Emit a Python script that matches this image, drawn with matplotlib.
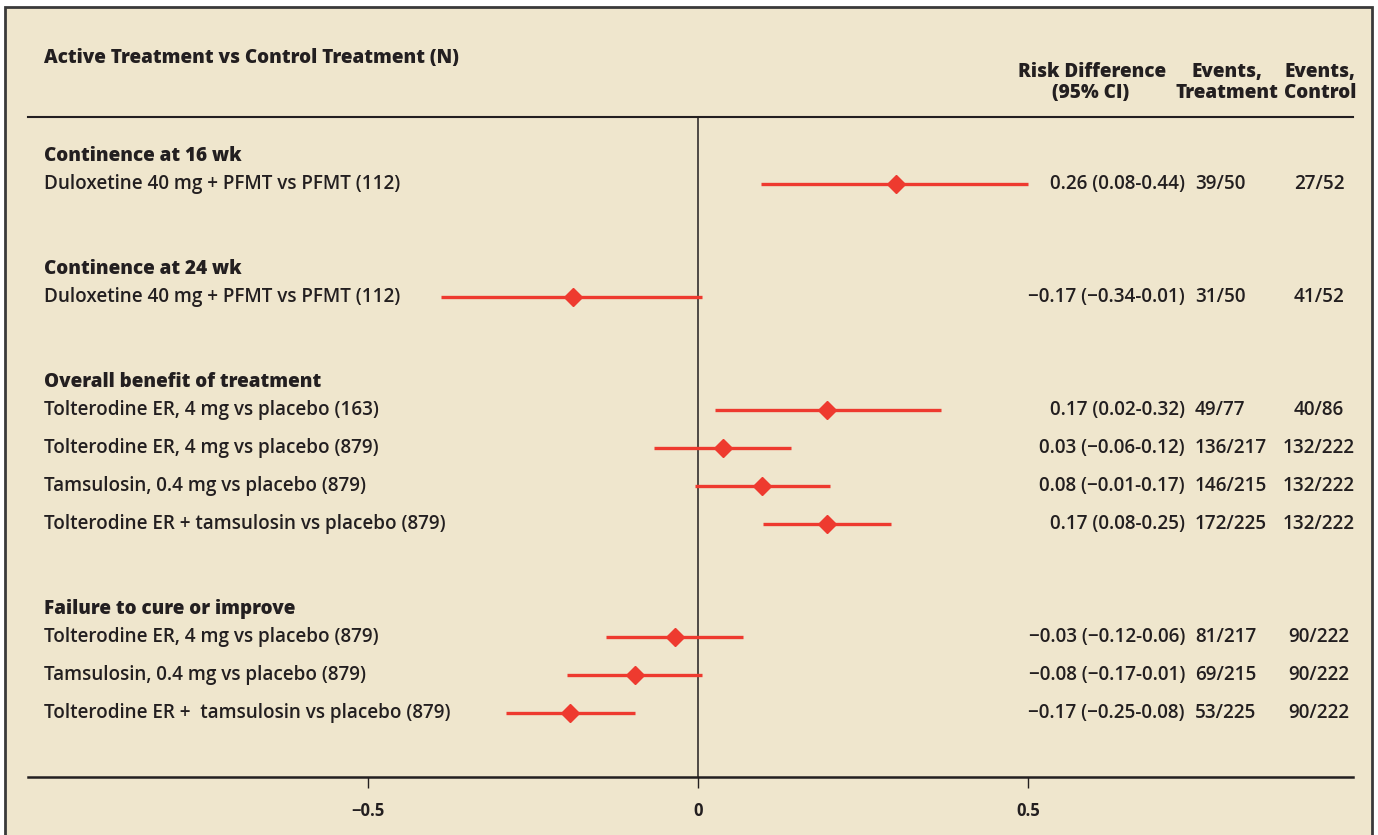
import matplotlib
matplotlib.use("Agg")
import matplotlib.pyplot as plt
from matplotlib.patches import Rectangle
from matplotlib.transforms import blended_transform_factory

plt.rcParams['font.family'] = ['Open Sans', 'DejaVu Sans']

groups = ["Continence at 16 wk", "Continence at 24 wk",
          "Overall benefit of treatment", "Failure to cure or improve"]
group_sizes = [1, 1, 4, 3]

labels = [
    "Duloxetine 40 mg + PFMT vs PFMT (112)",
    "Duloxetine 40 mg + PFMT vs PFMT (112)",
    "Tolterodine ER, 4 mg vs placebo (163)",
    "Tolterodine ER, 4 mg vs placebo (879)",
    "Tamsulosin, 0.4 mg vs placebo (879)",
    "Tolterodine ER + tamsulosin vs placebo (879)",
    "Tolterodine ER, 4 mg vs placebo (879)",
    "Tamsulosin, 0.4 mg vs placebo (879)",
    "Tolterodine ER +  tamsulosin vs placebo (879)",
]
# point estimates and CI as drawn
est = [0.30, -0.19, 0.195, 0.038, 0.097, 0.195, -0.035, -0.095, -0.194]
lo = [0.095, -0.39, 0.026, -0.067, -0.005, 0.098, -0.139, -0.198, -0.291]
hi = [0.50, 0.006, 0.368, 0.141, 0.20, 0.292, 0.068, 0.006, -0.095]

rd_text = [
    "0.26 (0.08-0.44)", "\u22120.17 (\u22120.34-0.01)", "0.17 (0.02-0.32)",
    "0.03 (\u22120.06-0.12)", "0.08 (\u22120.01-0.17)", "0.17 (0.08-0.25)",
    "\u22120.03 (\u22120.12-0.06)", "\u22120.08 (\u22120.17-0.01)",
    "\u22120.17 (\u22120.25-0.08)",
]
ev_treat = ["39/50", "31/50", "49/77", "136/217", "146/215", "172/225",
            "81/217", "69/215", "53/225"]
ev_ctrl = ["27/52", "41/52", "40/86", "132/222", "132/222", "132/222",
           "90/222", "90/222", "90/222"]

bg = '#efe6cd'
red = '#ee3a2f'
ink = '#231f20'
W, H = 1378, 835

fig = plt.figure(figsize=(W / 100, H / 100), dpi=100)
fig.patch.set_facecolor('white')
# beige panel with dark frame
fig.patches.append(Rectangle((5 / W, -0.01), 1367 / W, (H - 7) / H + 0.01,
                             transform=fig.transFigure, facecolor=bg,
                             edgecolor='#3a3a3a', linewidth=2, zorder=-10))

ax = fig.add_axes([28 / W, 1 - 777 / H, (1353 - 28) / W, (777 - 117) / H])
ax.set_facecolor('none')
ax.set_xlim(-1.015, 0.992)
ax.set_ylim(777, 117)  # rows measured from the top

# row layout
header_y, row_y = [], []
y = 156
for n in group_sizes:
    header_y.append(y)
    y += 28
    for k in range(n):
        row_y.append(y)
        if k < n - 1:
            y += 38
    y += 85

ax.axvline(0, color=ink, lw=1.1, zorder=1)
ax.hlines(row_y, lo, hi, color=red, lw=2.4, zorder=2)
ax.plot(est, row_y, 'D', color=red, markersize=9, zorder=3, linestyle='none')

for s in ['left', 'right']:
    ax.spines[s].set_visible(False)
ax.spines['top'].set_linewidth(1.5)
ax.spines['top'].set_color(ink)
ax.spines['bottom'].set_linewidth(1.8)
ax.spines['bottom'].set_color(ink)
ax.set_yticks([])
ax.set_xticks([-0.5, 0, 0.5])
ax.set_xticklabels(["\u22120.5", "0", "0.5"], fontweight='bold', fontsize=12, color=ink)
ax.tick_params(axis='x', length=8, width=1, color=ink, pad=10)

tr = blended_transform_factory(fig.transFigure, ax.transData)
fs = 13.6
hw = 'heavy'

def fx(px):
    return px / W

ax.text(fx(44), 58, "Active Treatment vs Control Treatment (N)", transform=tr,
        fontsize=fs, fontweight=hw, color=ink, va='center', ha='left')
ax.text(fx(1092), 72, "Risk Difference", transform=tr, fontsize=fs,
        fontweight=hw, color=ink, va='center', ha='center')
ax.text(fx(1091), 93, "(95% CI)", transform=tr, fontsize=fs,
        fontweight=hw, color=ink, va='center', ha='center')
ax.text(fx(1227), 72, "Events,", transform=tr, fontsize=fs,
        fontweight=hw, color=ink, va='center', ha='center')
ax.text(fx(1227), 93, "Treatment", transform=tr, fontsize=fs,
        fontweight=hw, color=ink, va='center', ha='center')
ax.text(fx(1320), 72, "Events,", transform=tr, fontsize=fs,
        fontweight=hw, color=ink, va='center', ha='center')
ax.text(fx(1320), 93, "Control", transform=tr, fontsize=fs,
        fontweight=hw, color=ink, va='center', ha='center')

for g, gy in zip(groups, header_y):
    ax.text(fx(44), gy, g, transform=tr, fontsize=fs, fontweight=hw,
            color=ink, va='center', ha='left')

for i, ry in enumerate(row_y):
    ax.text(fx(44), ry, labels[i], transform=tr, fontsize=fs,
            fontweight='semibold', color=ink, va='center', ha='left')
    ax.text(fx(1185), ry, rd_text[i], transform=tr, fontsize=fs,
            fontweight='semibold', color=ink, va='center', ha='right')
    ax.text(fx(1195), ry, ev_treat[i], transform=tr, fontsize=fs,
            fontweight='semibold', color=ink, va='center', ha='left')
    ax.text(fx(1319), ry, ev_ctrl[i], transform=tr, fontsize=fs,
            fontweight='semibold', color=ink, va='center', ha='center')

fig.savefig("out.png", dpi=100, facecolor=fig.get_facecolor())
